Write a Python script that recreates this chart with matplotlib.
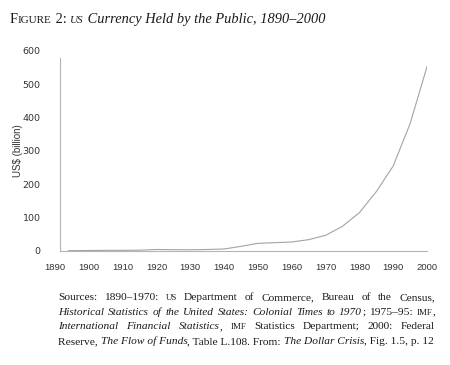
import matplotlib
matplotlib.use("Agg")
import matplotlib.pyplot as plt

# data
years = [1894, 1900, 1905, 1910, 1915, 1920, 1925, 1930, 1935, 1940, 1945,
         1950, 1955, 1960, 1965, 1970, 1975, 1980, 1985, 1990, 1995, 2000]
currency = [1, 1.5, 2, 2, 2.5, 4.5, 4, 3.6, 4.5, 6, 14,
            23, 25, 27, 34, 47, 74, 115, 178, 255, 382, 553]
x_ticks = list(range(1890, 2001, 10))
y_ticks = [0, 100, 200, 300, 400, 500, 600]

title_markup = "F^IGURE^ 2: *^US^ Currency Held by the Public, 1890–2000*"
source_lines = [
    "Sources: 1890–1970: ^US^ Department of Commerce, Bureau of the Census,",
    "*Historical Statistics of the United States: Colonial Times to 1970*; 1975–95: ^IMF^,",
    "*International Financial Statistics*, ^IMF^ Statistics Department; 2000: Federal",
    "Reserve, *The Flow of Funds*, Table L.108. From: *The Dollar Crisis*, Fig. 1.5, p. 12",
]

W, H = 450, 365
SERIF = "Liberation Serif"
SANS = "Liberation Sans"

fig = plt.figure(figsize=(W / 100, H / 100), dpi=100)
fig.patch.set_facecolor("white")

ax = fig.add_axes([55 / W, 114 / H, 372 / W, 200 / H])
ax.plot(years, currency, color="#a3a3a3", lw=0.8)
ax.set_xlim(1890, 2000)
ax.set_ylim(0, 600)
ax.set_xticks(x_ticks)
ax.set_yticks(y_ticks)
ax.tick_params(length=0, labelsize=6.8, labelcolor="#333333")
ax.tick_params(axis="x", pad=9)
ax.tick_params(axis="y", pad=14)
for lab in ax.get_xticklabels() + ax.get_yticklabels():
    lab.set_fontfamily(SANS)
for s in ["top", "right"]:
    ax.spines[s].set_visible(False)
ax.spines["left"].set_position(("data", 1891.5))
ax.spines["left"].set_bounds(0, 580)
ax.spines["bottom"].set_bounds(1891.5, 2000)
for s in ["left", "bottom"]:
    ax.spines[s].set_color("#b5b5b5")
    ax.spines[s].set_linewidth(0.8)
ax.set_ylabel("US$ (billion)", fontsize=7, family=SANS, color="#333333")
ax.yaxis.set_label_coords((23 - 55) / 372, 0.5)

renderer = fig.canvas.get_renderer()


def parse(s):
    # '*' toggles italic, '^' toggles small caps; returns words of styled pieces
    words, cur, buf = [], [], ""
    it = sc = False
    for ch in s:
        if ch in "*^ ":
            if buf:
                cur.append((buf, it, sc))
            buf = ""
            if ch == "*":
                it = not it
            elif ch == "^":
                sc = not sc
            else:
                if cur:
                    words.append(cur)
                cur = []
        else:
            buf += ch
    if buf:
        cur.append((buf, it, sc))
    if cur:
        words.append(cur)
    return words


def runs(s):
    # same parsing but keep spaces, split only on style changes
    out, buf = [], ""
    it = sc = False
    for ch in s:
        if ch in "*^":
            if buf:
                out.append((buf, it, sc))
            buf = ""
            if ch == "*":
                it = not it
            else:
                sc = not sc
        else:
            buf += ch
    if buf:
        out.append((buf, it, sc))
    return out


def make(txt, it, sc, size):
    t = fig.text(0, 0, txt.upper() if sc else txt, family=SERIF,
                 style="italic" if it else "normal",
                 fontsize=size * 0.78 if sc else size, color="#1a1a1a",
                 va="baseline", ha="left")
    return t, t.get_window_extent(renderer).width


def natural_width(markup, size):
    total = 0
    for txt, it, sc in runs(markup):
        t, w = make(txt, it, sc, size)
        t.remove()
        total += w
    return total


def draw_plain(markup, x0, y, size):
    x = x0
    for txt, it, sc in runs(markup):
        t, w = make(txt, it, sc, size)
        t.set_position((x / W, 1 - y / H))
        x += w


def draw_justified(markup, x0, y, size, width):
    built = []
    for w in parse(markup):
        pieces = [make(txt, it, sc, size) for txt, it, sc in w]
        built.append((pieces, sum(p[1] for p in pieces)))
    gap = (width - sum(b[1] for b in built)) / (len(built) - 1)
    x = x0
    for pieces, ww in built:
        for t, pw in pieces:
            t.set_position((x / W, 1 - y / H))
            x += pw
        x += gap


# title sized to the reference width
tsize = 10 * 315 / natural_width(title_markup, 10)
draw_plain(title_markup, 10, 23, tsize)

# source note: widest full line just fits the column, ragged last line stays inside it
ssize = min(8 * 374 / max(natural_width(l, 8) for l in source_lines[:3]),
            8 * 376 / natural_width(source_lines[-1], 8))
for i, line in enumerate(source_lines):
    y = 300 + i * 14.7
    if i == len(source_lines) - 1:
        draw_plain(line, 58, y, ssize)
    else:
        draw_justified(line, 58, y, ssize, 377)

fig.savefig("out.png", dpi=100, facecolor="white")
